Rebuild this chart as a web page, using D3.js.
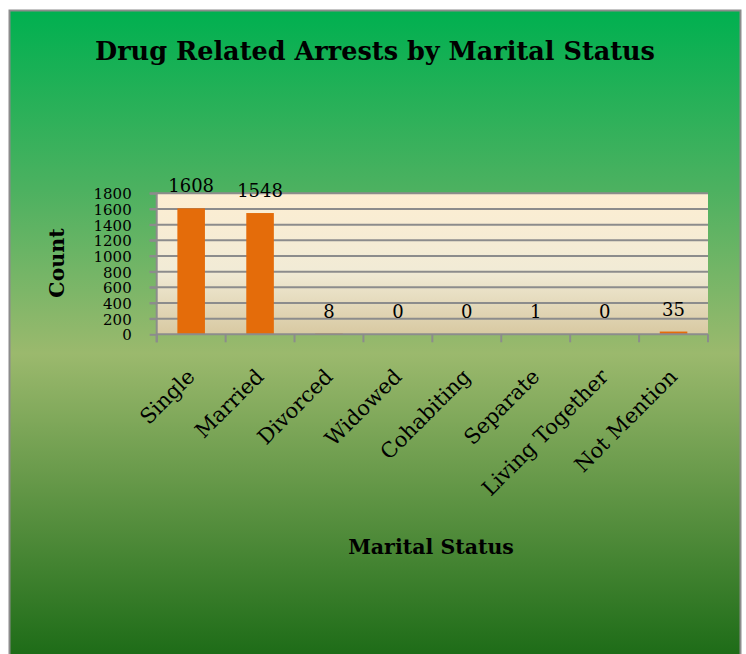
<!DOCTYPE html>
<html>
<head>
<meta charset="utf-8">
<script src="https://cdn.jsdelivr.net/npm/d3@7"></script>
<style>
  html, body { margin: 0; padding: 0; background: #ffffff; }
  svg { display: block; }
  text { font-family: "DejaVu Serif", "Liberation Serif", serif; fill: #000; }
</style>
</head>
<body>
<svg id="chart" width="746" height="654"></svg>
<script>
// Marital status categories and arrest counts
const categories = ["Single", "Married", "Divorced", "Widowed", "Cohabiting", "Separate", "Living Together", "Not Mention"];
const counts = [1608, 1548, 8, 0, 0, 1, 0, 35];
const yTicks = [0, 200, 400, 600, 800, 1000, 1200, 1400, 1600, 1800];

const chartTitle = "Drug Related Arrests by Marital Status";
const xTitle = "Marital Status";
const yTitle = "Count";

const svg = d3.select("#chart");

// Background gradients
const defs = svg.append("defs");
const bg = defs.append("linearGradient").attr("id", "bgGrad")
  .attr("x1", 0).attr("y1", 0).attr("x2", 0).attr("y2", 1);
bg.append("stop").attr("offset", "0%").attr("stop-color", "#00b050");
bg.append("stop").attr("offset", "27%").attr("stop-color", "#4cb160");
bg.append("stop").attr("offset", "52%").attr("stop-color", "#9bb96d");
bg.append("stop").attr("offset", "100%").attr("stop-color", "#176813");

const plotBg = defs.append("linearGradient").attr("id", "plotGrad")
  .attr("x1", 0).attr("y1", 0).attr("x2", 0).attr("y2", 1);
plotBg.append("stop").attr("offset", "0%").attr("stop-color", "#fdeed2");
plotBg.append("stop").attr("offset", "55%").attr("stop-color", "#f1ebd6");
plotBg.append("stop").attr("offset", "100%").attr("stop-color", "#d8c9a2");

// Chart frame
svg.append("rect")
  .attr("x", 9.5).attr("y", 10.5).attr("width", 731).attr("height", 660)
  .attr("fill", "url(#bgGrad)")
  .attr("stroke", "#8c8c8c").attr("stroke-width", 2);

// Plot geometry
const plot = { left: 156.7, right: 708, top: 193.3, bottom: 334.3 };

const x = d3.scaleBand()
  .domain(categories)
  .range([plot.left, plot.right])
  .paddingInner(0.6).paddingOuter(0.3);

const xEdges = d3.scaleBand().domain(categories).range([plot.left, plot.right]);

const y = d3.scaleLinear().domain([0, 1800]).range([plot.bottom, plot.top]);

// Plot area fill
svg.append("rect")
  .attr("x", plot.left).attr("y", plot.top)
  .attr("width", plot.right - plot.left).attr("height", plot.bottom - plot.top)
  .attr("fill", "url(#plotGrad)");

// Horizontal gridlines with left tick marks
svg.append("g").selectAll("line")
  .data(yTicks.filter(d => d > 0))
  .join("line")
  .attr("x1", plot.left - 7).attr("x2", plot.right)
  .attr("y1", d => y(d)).attr("y2", d => y(d))
  .attr("stroke", "#8c8c8c").attr("stroke-width", 2);

// Y axis
const yAxis = d3.axisLeft(y).tickValues(yTicks).tickSize(7).tickPadding(18).tickFormat(d3.format("d"));
const gy = svg.append("g").attr("transform", `translate(${plot.left},0)`).call(yAxis);
gy.select(".domain").remove();
gy.selectAll(".tick line").attr("stroke", "#8c8c8c").attr("stroke-width", 2);
gy.selectAll(".tick text").attr("font-size", 15).attr("dy", "0.36em")
  .style("font-family", "'DejaVu Serif', serif").attr("fill", "#000");
svg.append("line")
  .attr("x1", plot.left).attr("x2", plot.left)
  .attr("y1", plot.top - 1).attr("y2", plot.bottom + 8)
  .attr("stroke", "#8c8c8c").attr("stroke-width", 2);

// Bars
const rows = categories.map((c, i) => ({ c, v: counts[i] }));
svg.append("g").selectAll("rect")
  .data(rows)
  .join("rect")
  .attr("x", d => x(d.c))
  .attr("width", x.bandwidth())
  .attr("y", d => y(d.v))
  .attr("height", d => y(0) - y(d.v))
  .attr("fill", "#e46c0a");

// X axis line and ticks at category boundaries
svg.append("line")
  .attr("x1", plot.left).attr("x2", plot.right)
  .attr("y1", plot.bottom).attr("y2", plot.bottom)
  .attr("stroke", "#8c8c8c").attr("stroke-width", 2);
const edgePositions = categories.map(c => xEdges(c)).concat([plot.right]);
svg.append("g").selectAll("line")
  .data(edgePositions)
  .join("line")
  .attr("x1", d => d).attr("x2", d => d)
  .attr("y1", plot.bottom).attr("y2", plot.bottom + 8)
  .attr("stroke", "#8c8c8c").attr("stroke-width", 2);

// Value labels
svg.append("g").selectAll("text")
  .data(rows)
  .join("text")
  .attr("x", d => x(d.c) + x.bandwidth() / 2)
  .attr("y", d => y(d.v) - 16)
  .attr("text-anchor", "middle")
  .attr("font-size", 18)
  .text(d => d.v);

// Rotated category labels
svg.append("g").selectAll("text")
  .data(categories)
  .join("text")
  .attr("text-anchor", "end")
  .attr("font-size", 21)
  .attr("transform", d => `translate(${x(d) + x.bandwidth() / 2 + 5},${378}) rotate(-45)`)
  .text(d => d);

// Titles
svg.append("text")
  .attr("x", 375).attr("y", 60)
  .attr("text-anchor", "middle")
  .attr("font-size", 26).attr("font-weight", "bold")
  .attr("textLength", 560).attr("lengthAdjust", "spacingAndGlyphs")
  .text(chartTitle);

svg.append("text")
  .attr("x", 431).attr("y", 554)
  .attr("text-anchor", "middle")
  .attr("font-size", 20.5).attr("font-weight", "bold")
  .text(xTitle);

svg.append("text")
  .attr("transform", "translate(64,263) rotate(-90)")
  .attr("text-anchor", "middle")
  .attr("font-size", 20.5).attr("font-weight", "bold")
  .text(yTitle);
</script>
</body>
</html>
